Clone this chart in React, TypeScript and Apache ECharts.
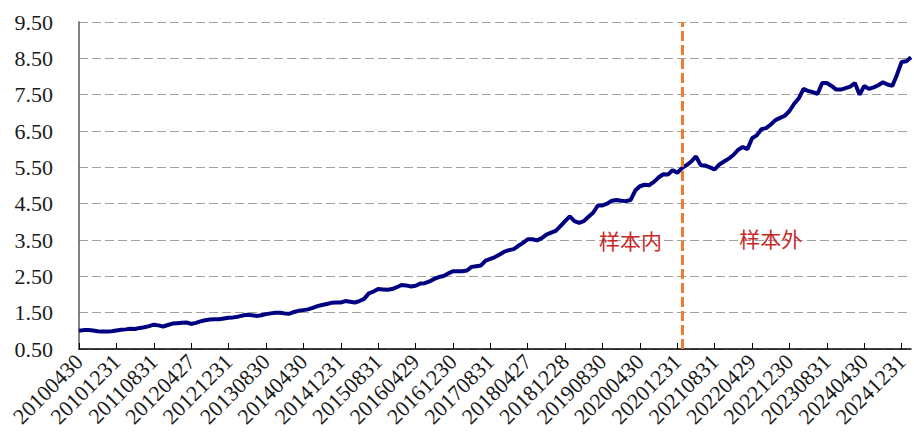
import React, { useEffect, useRef } from "react";
import * as echarts from "echarts";

// Month-end trading dates, 2010-04 .. 2025-02
const START_YEAR = 2010;
const START_MONTH = 4;
const N_MONTHS = 179;
const HOLIDAY_OVERRIDES: Record<string, string> = {
  "201204": "20120427",
  "201304": "20130426",
  "201804": "20180427",
  "201812": "20181228",
};

function lastTradingDay(y: number, m: number): string {
  const key = `${y}${String(m).padStart(2, "0")}`;
  if (HOLIDAY_OVERRIDES[key]) return HOLIDAY_OVERRIDES[key];
  const d = new Date(Date.UTC(y, m, 0));
  while (d.getUTCDay() === 0 || d.getUTCDay() === 6) d.setUTCDate(d.getUTCDate() - 1);
  return `${y}${String(m).padStart(2, "0")}${String(d.getUTCDate()).padStart(2, "0")}`;
}

const dates: string[] = [];
for (let k = 0; k < N_MONTHS; k++) {
  const t = START_MONTH - 1 + k;
  dates.push(lastTradingDay(START_YEAR + Math.floor(t / 12), (t % 12) + 1));
}

// Net value curve
const netValue: number[] = [
  1.00, 1.02, 1.02, 1.01, 0.99, 0.98, 0.98, 0.99, 1.01, 1.03,
  1.04, 1.06, 1.05, 1.08, 1.10, 1.13, 1.17, 1.15, 1.12, 1.16,
  1.20, 1.21, 1.22, 1.23, 1.19, 1.22, 1.26, 1.29, 1.31, 1.32,
  1.32, 1.34, 1.36, 1.37, 1.39, 1.42, 1.44, 1.43, 1.41, 1.43,
  1.46, 1.48, 1.50, 1.50, 1.48, 1.47, 1.52, 1.55, 1.57, 1.59,
  1.63, 1.68, 1.71, 1.74, 1.77, 1.78, 1.78, 1.82, 1.80, 1.78,
  1.82, 1.88, 2.03, 2.08, 2.15, 2.14, 2.13, 2.15, 2.20, 2.26,
  2.25, 2.22, 2.24, 2.30, 2.31, 2.36, 2.43, 2.48, 2.51, 2.58,
  2.64, 2.64, 2.64, 2.66, 2.76, 2.78, 2.80, 2.93, 2.98, 3.03,
  3.10, 3.18, 3.22, 3.25, 3.34, 3.42, 3.52, 3.52, 3.49, 3.55,
  3.65, 3.70, 3.75, 3.88, 4.02, 4.15, 4.02, 3.97, 4.02, 4.14,
  4.25, 4.45, 4.45, 4.50, 4.58, 4.60, 4.58, 4.57, 4.60, 4.86,
  4.98, 5.02, 5.01, 5.10, 5.22, 5.31, 5.30, 5.42, 5.35, 5.48,
  5.56, 5.66, 5.80, 5.56, 5.55, 5.50, 5.44, 5.58, 5.66, 5.74,
  5.84, 5.98, 6.06, 6.00, 6.30, 6.38, 6.55, 6.58, 6.68, 6.80,
  6.86, 6.92, 7.05, 7.25, 7.40, 7.66, 7.60, 7.57, 7.52, 7.82,
  7.82, 7.74, 7.64, 7.64, 7.68, 7.72, 7.82, 7.50, 7.74, 7.66,
  7.70, 7.76, 7.84, 7.78, 7.74, 8.05, 8.40, 8.42, 8.53,
];

// Y axis: labels 0.50 .. 9.50 step 1.00 (axis is offset by the base so ticks fall on x.50)
const Y_BASE = 0.5;
const Y_MIN = 0.5;
const Y_MAX = 9.5;
const Y_STEP = 1;

const SPLIT_INDEX = 129; // in-sample / out-of-sample boundary
const inSampleLabel = { text: "样本内", index: 118, value: 3.5 };
const outSampleLabel = { text: "样本外", index: 148, value: 3.55 };

export default function App() {
  const ref = useRef<HTMLDivElement>(null);
  useEffect(() => {
    if (!ref.current) return;
    const chart = echarts.init(ref.current, null, { renderer: "svg" });
    const serif = "'Liberation Serif', 'Times New Roman', serif";
    const cjk = "'Noto Sans CJK SC', sans-serif";
    const textPt = (l: { text: string; index: number; value: number }) => ({
      coord: [dates[l.index], l.value - Y_BASE],
      value: l.text,
      symbol: "circle",
      symbolSize: 1,
      itemStyle: { color: "rgba(0,0,0,0)" },
      label: {
        show: true,
        position: "inside",
        formatter: l.text,
        color: "#C62828",
        fontSize: 21,
        fontFamily: cjk,
      },
    });
    chart.setOption({
      animation: false,
      backgroundColor: "#ffffff",
      grid: { left: 79, right: 3, top: 22, bottom: 94, containLabel: false },
      xAxis: {
        type: "category",
        data: dates,
        boundaryGap: false,
        axisLine: { show: true, lineStyle: { color: "#000000", width: 1.5 } },
        axisTick: { show: true, inside: true, length: 6, interval: 7, lineStyle: { color: "#000000", width: 1 } },
        axisLabel: {
          interval: 7,
          rotate: 45,
          margin: 9,
          fontSize: 22,
          fontFamily: serif,
          color: "#1a1a1a",
        },
        splitLine: { show: false },
      },
      yAxis: {
        type: "value",
        min: Y_MIN - Y_BASE,
        max: Y_MAX - Y_BASE,
        interval: Y_STEP,
        axisLine: { show: true, lineStyle: { color: "#595959", width: 1.5 } },
        axisTick: { show: false },
        axisLabel: {
          margin: 26,
          fontSize: 22,
          fontFamily: serif,
          color: "#1a1a1a",
          formatter: (v: number) => (v + Y_BASE).toFixed(2),
        },
        splitLine: { show: true, lineStyle: { color: "#A0A0A0", type: [9, 4], width: 1 } },
      },
      series: [
        {
          type: "line",
          data: netValue.map((v) => v - Y_BASE),
          showSymbol: false,
          symbol: "none",
          lineStyle: { color: "#000080", width: 4 },
          itemStyle: { color: "#000080" },
          z: 3,
          markLine: {
            silent: true,
            symbol: ["none", "none"],
            label: { show: false },
            lineStyle: { color: "#ED7D31", type: [10, 4], width: 3 },
            data: [{ xAxis: dates[SPLIT_INDEX] }],
          },
          markPoint: {
            silent: true,
            data: [textPt(inSampleLabel), textPt(outSampleLabel)],
          },
        },
      ],
    });
    return () => chart.dispose();
  }, []);
  return (
    <div
      ref={ref}
      style={{ position: "fixed", left: 0, top: 0, width: 914, height: 443 }}
    />
  );
}
